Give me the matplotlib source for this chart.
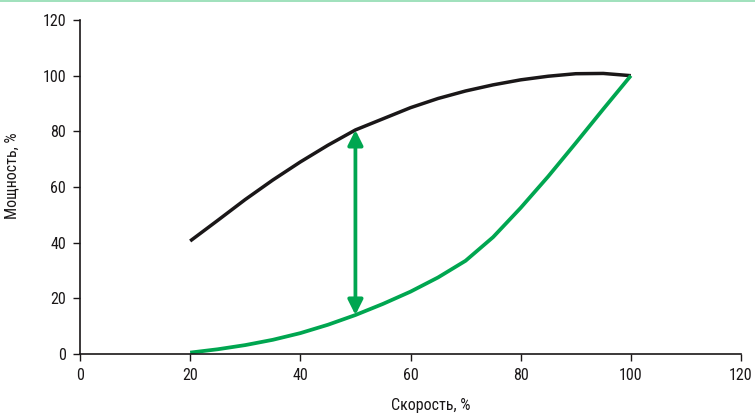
import matplotlib
matplotlib.use("Agg")
import matplotlib.pyplot as plt
from matplotlib.lines import Line2D
from matplotlib import font_manager

# Prefer a narrow sans face when one is installed
narrow = None
names = {f.name for f in font_manager.fontManager.ttflist}
for cand in ['Liberation Sans Narrow', 'Arial Narrow', 'Roboto Condensed',
             'Barlow Semi Condensed', 'Asap Condensed', 'DejaVu Sans Condensed']:
    if cand in names:
        narrow = cand
        break
family = [narrow] if narrow else []
family += ['Liberation Sans', 'DejaVu Sans']
plt.rcParams['font.family'] = family

# Speed, % of nominal
speed = [20, 25, 30, 35, 40, 45, 50, 55, 60, 65, 70, 75, 80, 85, 90, 95, 100]
# Power with throttling control, %
power_throttle = [40.6, 48, 55.5, 62.5, 69, 75, 80.5, 84.5, 88.5, 91.8, 94.5,
                  96.7, 98.5, 99.8, 100.7, 100.8, 100]
# Power with variable speed drive, %
power_vsd = [0.5, 1.7, 3.2, 5.1, 7.5, 10.5, 14, 18, 22.4, 27.5, 33.5,
             42, 52.5, 63.8, 75.8, 88, 100]

# Savings arrow at 50 % speed
arrow_x = 50
arrow_low = 14
arrow_high = 80.5

xticks = [0, 20, 40, 60, 80, 100, 120]
yticks = [0, 20, 40, 60, 80, 100, 120]

black = '#1a1718'
green = '#00a650'

fig = plt.figure(figsize=(7.55, 4.17), dpi=100)
ax = fig.add_axes([80 / 755, 63 / 417, 661 / 755, 334 / 417])

ax.plot(speed, power_throttle, color=black, lw=2.5, solid_capstyle='butt')
ax.plot(speed, power_vsd, color=green, lw=2.7, solid_capstyle='butt')

ax.annotate('', xy=(arrow_x, arrow_high), xytext=(arrow_x, arrow_low),
            arrowprops=dict(arrowstyle='<|-|>,head_length=0.9,head_width=0.45',
                            color=green, lw=2.7, shrinkA=0, shrinkB=0))

ax.set_xlim(0, 120)
ax.set_ylim(0, 120)
ax.set_xticks(xticks)
ax.set_yticks(yticks)
tsize = 11.5 if narrow else 10
ax.tick_params(direction='out', length=5, width=1, colors=black,
               labelsize=tsize, pad=5)
for s in ['top', 'right']:
    ax.spines[s].set_visible(False)
for s in ['left', 'bottom']:
    ax.spines[s].set_color(black)
    ax.spines[s].set_linewidth(1.2)

lsize = 11.5 if narrow else 9.5
fig.text(431 / 755, (417 - 410) / 417, 'Скорость, %', fontsize=lsize,
         color=black, ha='center', va='baseline')
fig.text(12 / 755, 1 - 176 / 417, 'Мощность, %', fontsize=lsize,
         color=black, ha='center', va='center', rotation=90)

# thin rule along the top edge
fig.add_artist(Line2D([0, 1], [0.9985, 0.9985], transform=fig.transFigure,
                      color='#8fdcb0', lw=1.2))

fig.savefig('out.png', dpi=100)
